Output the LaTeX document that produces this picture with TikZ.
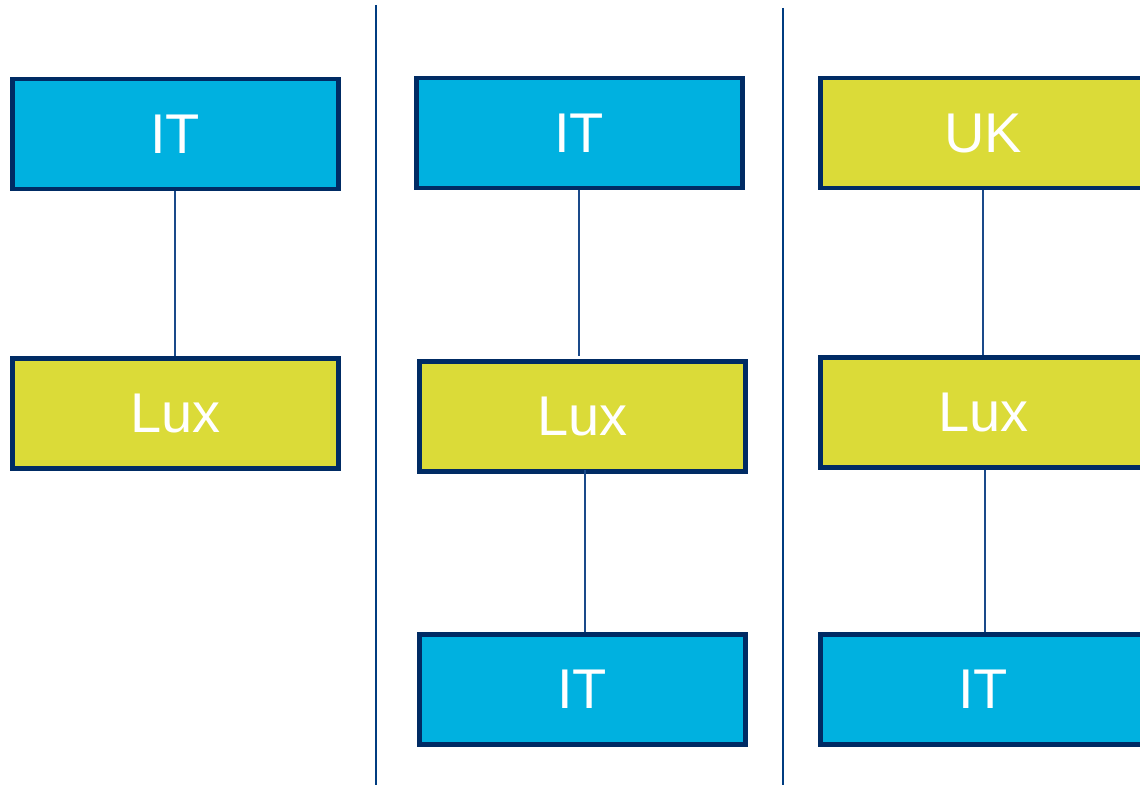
\documentclass[tikz,border=0pt]{standalone}
\usepackage{fontspec}
\setmainfont{Liberation Sans}
\definecolor{boxblue}{HTML}{00B1E0}
\definecolor{boxyellow}{HTML}{DBDB38}
\definecolor{navy}{HTML}{002B64}
\definecolor{linkblue}{HTML}{1A4A8A}
\definecolor{divblue}{HTML}{003C80}
\begin{document}
\begin{tikzpicture}[x=1pt,y=-1pt,
  cbox/.style={draw=navy, line width=4.5pt, minimum width=326pt, minimum height=110pt,
    inner sep=0pt, anchor=north west, text=white, font=\fontsize{56}{60}\selectfont},
  blue box/.style={cbox, fill=boxblue},
  yellow box/.style={cbox, fill=boxyellow},
  link/.style={draw=linkblue, line width=1.6pt},
  divider/.style={draw=divblue, line width=2.6pt}]
\useasboundingbox (0,0) rectangle (1140,786);
\clip (0,0) rectangle (1140,786);
% column 1
\node[blue box] (a1) at (10,77) {IT};
\node[yellow box] (a2) at (10,356) {Lux};
\draw[link] (a1.south) -- (a2.north);
% divider 1
\coordinate (d1t) at (376,5);
\coordinate (d1b) at (376,785);
\draw[divider] (d1t) -- (d1b);
% column 2
\node[blue box] (b1) at (414,76) {IT};
\node[yellow box] (b2) at (417,359) {Lux};
\node[blue box] (b3) at (417,632) {IT};
\coordinate (b2t) at (579,356);
\draw[link] (b1.south -| b2t) -- (b2t);
\coordinate (b2b) at (585,470);
\draw[link] (b2b) -- (b3.north -| b2b);
% divider 2
\coordinate (d2t) at (783,8);
\coordinate (d2b) at (783,785);
\draw[divider] (d2t) -- (d2b);
% column 3
\node[yellow box] (c1) at (818,76) {UK};
\node[yellow box] (c2) at (818,355) {Lux};
\node[blue box] (c3) at (818,632) {IT};
\draw[link] (c1.south) -- (c2.north);
\draw[link] ([xshift=2pt]c2.south) -- ([xshift=2pt]c3.north);
\end{tikzpicture}
\end{document}
